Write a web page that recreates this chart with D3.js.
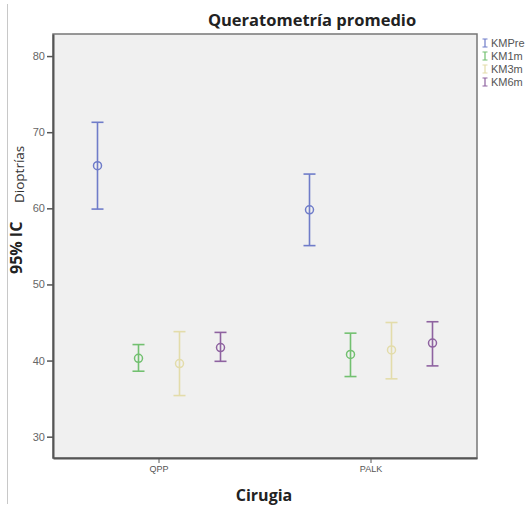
<!DOCTYPE html>
<html>
<head>
<meta charset="utf-8">
<script src="https://cdn.jsdelivr.net/npm/d3@7"></script>
<style>
body { margin: 0; background: #fff; }
svg { font-family: "Open Sans", "DejaVu Sans", sans-serif; }
</style>
</head>
<body>
<script>
// data
let groups = ["QPP", "PALK"];
let series = ["KMPre", "KM1m", "KM3m", "KM6m"];
let colors = ["#6f7cc9", "#72c070", "#e3dcaa", "#8e62a0"];
let means = [[65.6, 40.3, 39.6, 41.7], [59.8, 40.8, 41.4, 42.3]];
let lows  = [[59.9, 38.6, 35.4, 39.9], [55.1, 37.9, 37.6, 39.3]];
let highs = [[71.3, 42.1, 43.8, 43.7], [64.5, 43.6, 45.0, 45.1]];
let yTicks = [30, 40, 50, 60, 70, 80];

let margin = {top: 34, right: 50, bottom: 48, left: 53};
let W = 527, H = 506;
let width = W - margin.left - margin.right;
let height = H - margin.top - margin.bottom;

let svg = d3.select("body").append("svg")
	.attr("width", W)
	.attr("height", H);

// thin frame line on the left
svg.append("line")
	.attr("x1", 7.5).attr("x2", 7.5)
	.attr("y1", 4).attr("y2", 504)
	.attr("stroke", "#c8c8c8");

let chart = svg.append("g")
	.attr("transform", "translate(" + margin.left + "," + margin.top + ")");

let xScale = d3.scaleBand().domain(groups).range([0, width]);
let xInner = d3.scaleBand().domain(series).range([-82, 82]);
let yScale = d3.scaleLinear().domain([27.2, 82.9]).range([height, 0]);

chart.append("rect")
	.attr("width", width).attr("height", height)
	.attr("fill", "#f0f0f0")
	.attr("stroke", "#777").attr("stroke-width", 1.5);

// y axis
let yAxis = chart.append("g")
	.call(d3.axisLeft(yScale).tickValues(yTicks).tickSize(6).tickSizeOuter(0).tickPadding(2));
yAxis.select(".domain").attr("stroke", "#555").attr("stroke-width", 2);
yAxis.selectAll(".tick line").attr("stroke", "#555").attr("stroke-width", 1.5);
yAxis.selectAll(".tick text").attr("fill", "#666").style("font-size", "11px");

// x axis
let xAxis = chart.append("g")
	.attr("transform", "translate(0," + height + ")")
	.call(d3.axisBottom(xScale).tickSize(5).tickSizeOuter(0).tickPadding(3));
xAxis.select(".domain").attr("stroke", "#555").attr("stroke-width", 2);
xAxis.selectAll(".tick line").attr("stroke", "#555");
xAxis.selectAll(".tick text").attr("fill", "#555").style("font-size", "9px");

// error bars
let rows = [];
groups.forEach(function(g, gi) {
	series.forEach(function(s, si) {
		rows.push({g: g, s: s, c: colors[si], m: means[gi][si], lo: lows[gi][si], hi: highs[gi][si]});
	});
});
let cx = function(d) { return xScale(d.g) + xScale.bandwidth() / 2 + xInner(d.s) + xInner.bandwidth() / 2; };

let bars = chart.selectAll(".bar").data(rows).enter().append("g").attr("class", "bar");
bars.append("line")
	.attr("x1", cx).attr("x2", cx)
	.attr("y1", function(d) { return yScale(d.lo); })
	.attr("y2", function(d) { return yScale(d.hi); })
	.attr("stroke", function(d) { return d.c; }).attr("stroke-width", 1.6);
["lo", "hi"].forEach(function(k) {
	bars.append("line")
		.attr("x1", function(d) { return cx(d) - 6; })
		.attr("x2", function(d) { return cx(d) + 6; })
		.attr("y1", function(d) { return yScale(d[k]); })
		.attr("y2", function(d) { return yScale(d[k]); })
		.attr("stroke", function(d) { return d.c; }).attr("stroke-width", 1.6);
});
bars.append("circle")
	.attr("cx", cx)
	.attr("cy", function(d) { return yScale(d.m); })
	.attr("r", 4)
	.attr("fill", "none")
	.attr("stroke", function(d) { return d.c; }).attr("stroke-width", 1.5);

// title
svg.append("text")
	.attr("x", 312).attr("y", 26)
	.attr("text-anchor", "middle")
	.style("font-size", "16.5px").style("font-weight", "bold").attr("fill", "#222")
	.text("Queratometría promedio");

// axis labels
svg.append("text")
	.attr("x", 264).attr("y", 501)
	.attr("text-anchor", "middle")
	.style("font-size", "16px").style("font-weight", "bold").attr("fill", "#222")
	.text("Cirugia");

svg.append("text")
	.attr("transform", "translate(22,274) rotate(-90)")
	.style("font-size", "16px").style("font-weight", "bold").attr("fill", "#222")
	.text("95% IC");
svg.append("text")
	.attr("transform", "translate(24,203) rotate(-90)")
	.style("font-size", "13.5px").attr("fill", "#333")
	.text("Dioptrías");

// legend
let legend = svg.selectAll(".legend").data(series).enter().append("g")
	.attr("transform", function(d, i) { return "translate(485," + (43 + i * 13) + ")"; });
legend.append("path")
	.attr("d", "M-2.5,-4H2.5M0,-4V4M-2.5,4H2.5")
	.attr("stroke", function(d, i) { return colors[i]; }).attr("stroke-width", 1.2).attr("fill", "none");
legend.append("text")
	.attr("x", 6).attr("y", 4)
	.style("font-family", "'Liberation Sans', sans-serif")
	.style("font-size", "11px").attr("fill", "#555")
	.text(function(d) { return d; });
</script>
</body>
</html>
